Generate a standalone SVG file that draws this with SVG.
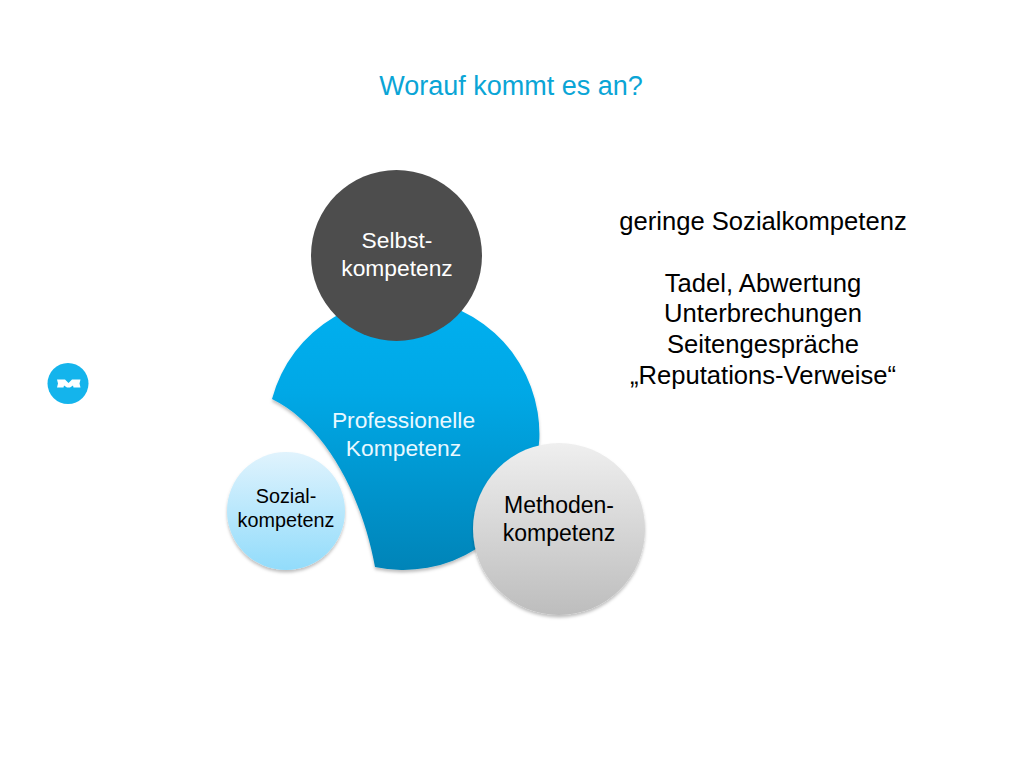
<svg xmlns="http://www.w3.org/2000/svg" width="1024" height="768" viewBox="0 0 1024 768">
<style>
text{font-family:"Liberation Sans",Arial,sans-serif;text-anchor:middle}
.r{font-size:25.6px;fill:#000}
.w{font-size:22.800px;fill:#fff}
.p{font-size:22.800px;fill:#e8f8ff}
.b{font-size:23px;fill:#000}
.s{font-size:19.800px;fill:#000}
</style>
<defs>
<linearGradient id="gb" x1="0" y1="0" x2="0" y2="1"><stop offset="0" stop-color="#00b0f0"/><stop offset="0.35" stop-color="#00a8e6"/><stop offset="1" stop-color="#0084b8"/></linearGradient>
<linearGradient id="gs" x1="0" y1="0" x2="0" y2="1"><stop offset="0" stop-color="#e0f3fd"/><stop offset="1" stop-color="#92dcfb"/></linearGradient>
<linearGradient id="gm" x1="0" y1="0" x2="0" y2="1"><stop offset="0" stop-color="#efefef"/><stop offset="1" stop-color="#bdbdbd"/></linearGradient>
<filter id="sh" x="-20%" y="-20%" width="140%" height="140%"><feDropShadow dx="0" dy="2.500" stdDeviation="1.800" flood-color="#000" flood-opacity="0.25"/></filter>
</defs>
<rect width="1024" height="768" fill="#fff"/>
<text id="title" x="511" y="95" style="font-size:27px" fill="#0aa5d6">Worauf kommt es an?</text>
<g id="professionelle">
<path d="M272 399A136 136 0 1 1 375 567C362 495 325 425 272 399Z" fill="url(#gb)" filter="url(#sh)"/>
<text class="p" x="403.500" y="428">Professionelle</text>
<text class="p" x="403.500" y="456">Kompetenz</text>
</g>
<g id="selbst">
<circle cx="396.500" cy="255.500" r="85.500" fill="#4d4d4d"/>
<text class="w" x="397" y="248">Selbst-</text>
<text class="w" x="397" y="276">kompetenz</text>
</g>
<g id="sozial">
<circle cx="286" cy="511" r="59" fill="url(#gs)" filter="url(#sh)"/>
<text class="s" x="286" y="503">Sozial-</text>
<text class="s" x="286" y="527">kompetenz</text>
</g>
<g id="methoden">
<circle cx="559" cy="529" r="86" fill="url(#gm)" filter="url(#sh)"/>
<text class="b" x="559" y="513">Methoden-</text>
<text class="b" x="559" y="541">kompetenz</text>
</g>
<g id="notes">
<text class="r" x="763" y="230">geringe Sozialkompetenz</text>
<text class="r" x="763" y="292">Tadel, Abwertung</text>
<text class="r" x="763" y="322">Unterbrechungen</text>
<text class="r" x="763" y="353">Seitengespräche</text>
<text class="r" x="763" y="384">„Reputations-Verweise“</text>
</g>
<g id="logo">
<circle cx="68" cy="383.500" r="20.500" fill="#14b4ec"/>
<path d="M57 379.500H65L68.500 383L72 379.500H80.500L79.500 383.500L80.500 387.500H73.500L73 385.500L70 387.500H67L64 385.500L63.500 387.500H57L58 383.500Z" fill="#fff"/>
</g>
<g id="connectors"/>
</svg>
